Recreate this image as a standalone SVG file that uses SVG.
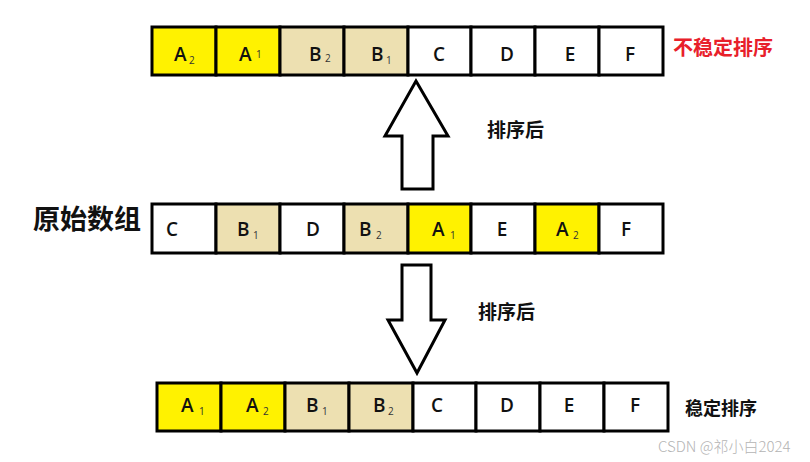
<svg xmlns="http://www.w3.org/2000/svg" width="810" height="462" viewBox="0 0 810 462">
<style>
.c{stroke:#000;stroke-width:3}
.w{fill:#fff}.y{fill:#fff200}.t{fill:#ede0b1}
.l{font-family:"Open Sans","Liberation Sans",sans-serif;font-size:19px;font-weight:600;fill:#111}
.s{font-family:"Open Sans","Liberation Sans",sans-serif;font-size:10px;fill:#333}
.cjk{font-family:"Noto Sans CJK SC",sans-serif;font-weight:bold}
.arr{fill:#fff;stroke:#000;stroke-width:3;stroke-linejoin:miter}
</style>
<rect width="810" height="462" fill="#fff"/>

<!-- top row -->
<g id="top-row">
<g id="t1"><rect class="c y" x="152" y="27" width="64" height="48"/><text class="l" x="174" y="61">A</text><text class="s" x="189" y="64">2</text></g>
<g id="t2"><rect class="c y" x="216" y="27" width="64" height="48"/><text class="l" x="239" y="61">A</text><text class="s" x="256" y="58">1</text></g>
<g id="t3"><rect class="c t" x="280" y="27" width="64" height="48"/><text class="l" x="309" y="61">B</text><text class="s" x="325" y="62">2</text></g>
<g id="t4"><rect class="c t" x="344" y="27" width="64" height="48"/><text class="l" x="371" y="61">B</text><text class="s" x="386" y="64">1</text></g>
<g id="t5"><rect class="c w" x="408" y="27" width="63" height="48"/><text class="l" x="439" y="61" text-anchor="middle">C</text></g>
<g id="t6"><rect class="c w" x="471" y="27" width="64" height="48"/><text class="l" x="507" y="61" text-anchor="middle">D</text></g>
<g id="t7"><rect class="c w" x="535" y="27" width="64" height="48"/><text class="l" x="570" y="61" text-anchor="middle">E</text></g>
<g id="t8"><rect class="c w" x="599" y="27" width="64" height="48"/><text class="l" x="630" y="61" text-anchor="middle">F</text></g>
</g>
<text id="unstable-label" class="cjk" x="673" y="55" font-size="20" fill="#e8202a">不稳定排序</text>

<!-- middle row -->
<g id="mid-row">
<g id="m1"><rect class="c w" x="152" y="204" width="64" height="49"/><text class="l" x="172" y="236" text-anchor="middle">C</text></g>
<g id="m2"><rect class="c t" x="216" y="204" width="64" height="49"/><text class="l" x="237" y="236">B</text><text class="s" x="253" y="239">1</text></g>
<g id="m3"><rect class="c w" x="280" y="204" width="64" height="49"/><text class="l" x="313" y="236" text-anchor="middle">D</text></g>
<g id="m4"><rect class="c t" x="344" y="204" width="64" height="49"/><text class="l" x="359" y="236">B</text><text class="s" x="376" y="239">2</text></g>
<g id="m5"><rect class="c y" x="408" y="204" width="63" height="49"/><text class="l" x="432" y="236">A</text><text class="s" x="450" y="239">1</text></g>
<g id="m6"><rect class="c w" x="471" y="204" width="64" height="49"/><text class="l" x="502" y="236" text-anchor="middle">E</text></g>
<g id="m7"><rect class="c y" x="535" y="204" width="64" height="49"/><text class="l" x="556" y="236">A</text><text class="s" x="573" y="239">2</text></g>
<g id="m8"><rect class="c w" x="599" y="204" width="64" height="49"/><text class="l" x="626" y="236" text-anchor="middle">F</text></g>
</g>
<text id="orig-label" class="cjk" x="33" y="229" font-size="27" fill="#111">原始数组</text>

<!-- bottom row -->
<g id="bot-row">
<g id="b1"><rect class="c y" x="157" y="383" width="64" height="48"/><text class="l" x="181" y="412">A</text><text class="s" x="199" y="415">1</text></g>
<g id="b2"><rect class="c y" x="221" y="383" width="64" height="48"/><text class="l" x="246" y="412">A</text><text class="s" x="263" y="415">2</text></g>
<g id="b3"><rect class="c t" x="285" y="383" width="64" height="48"/><text class="l" x="306" y="412">B</text><text class="s" x="322" y="415">1</text></g>
<g id="b4"><rect class="c t" x="349" y="383" width="64" height="48"/><text class="l" x="373" y="412">B</text><text class="s" x="388" y="415">2</text></g>
<g id="b5"><rect class="c w" x="413" y="383" width="63" height="48"/><text class="l" x="437" y="412" text-anchor="middle">C</text></g>
<g id="b6"><rect class="c w" x="476" y="383" width="64" height="48"/><text class="l" x="507" y="412" text-anchor="middle">D</text></g>
<g id="b7"><rect class="c w" x="540" y="383" width="64" height="48"/><text class="l" x="569" y="412" text-anchor="middle">E</text></g>
<g id="b8"><rect class="c w" x="604" y="383" width="64" height="48"/><text class="l" x="635" y="412" text-anchor="middle">F</text></g>
</g>
<text id="stable-label" class="cjk" x="685" y="415" font-size="18" fill="#111">稳定排序</text>

<!-- connectors -->
<g id="connectors">
<polygon class="arr" points="416,81 448,136 433,136 433,189 402,189 402,136 385,136"/>
<polygon class="arr" points="402,265 431,265 431,320 445,320 417,373 388,320 402,320"/>
</g>
<text class="cjk" x="487" y="137" font-size="19" fill="#111">排序后</text>
<text class="cjk" x="478" y="319" font-size="19" fill="#111">排序后</text>

<text x="658" y="452" font-family="'Noto Sans CJK SC','Noto Sans',sans-serif" font-size="15" font-weight="300" fill="#b4b4b4">CSDN @祁小白2024</text>
</svg>
